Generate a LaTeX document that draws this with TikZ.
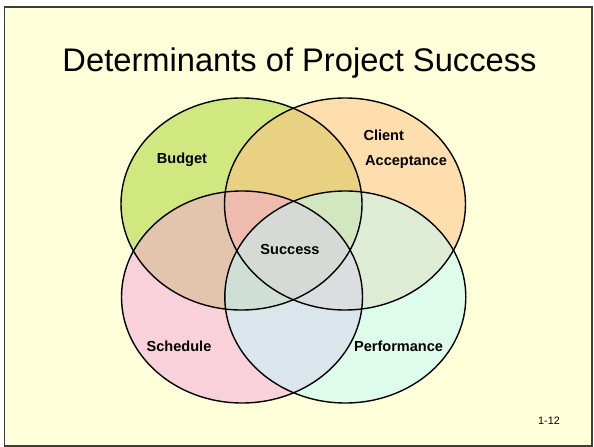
\documentclass[tikz,border=0pt]{standalone}
\usepackage{fontspec}
\setmainfont{Liberation Sans}
\usetikzlibrary{shapes.geometric}
\definecolor{slidebg}{RGB}{255,255,217}
\definecolor{framecol}{RGB}{60,60,60}
\definecolor{cgreen}{RGB}{165,208,40}
\definecolor{corange}{RGB}{255,190,130}
\definecolor{cpink}{RGB}{245,165,220}
\definecolor{ccyan}{RGB}{190,250,255}
\tikzset{
  venn/.style={ellipse, inner sep=0pt, minimum width=241bp, minimum height=212bp},
  vennfill/.style={venn, fill opacity=0.5},
  vennline/.style={venn, draw=black, line width=1.4bp},
  lbl/.style={font=\fontsize{14.6}{17}\selectfont\bfseries, inner sep=0pt},
}
\begin{document}
\begin{tikzpicture}[x=1bp,y=-1bp]
\useasboundingbox (0,0) rectangle (594,447);
\fill[white] (0,0) rectangle (594,447);
\draw[fill=slidebg, draw=framecol, line width=1.5bp] (4.5,7) rectangle (592,446);
\node[inner sep=0pt, font=\fontsize{32.8}{38}\selectfont] (title) at (299.5,63) {\vphantom{D}Determinants of Project Success};
% fills
\node[vennfill, fill=cgreen] (budgetF) at (241.5,204) {};
\node[vennfill, fill=corange] (clientF) at (345,204) {};
\node[vennfill, fill=cpink] (scheduleF) at (242,297) {};
\node[vennfill, fill=ccyan] (perfF) at (345.3,297) {};
% outlines
\node[vennline] (budget) at (241.5,204) {};
\node[vennline] (client) at (345,204) {};
\node[vennline] (schedule) at (242,297) {};
\node[vennline] (perf) at (345.3,297) {};
% labels
\node[lbl] (lbudget) at (182,160) {Budget};
\node[lbl, anchor=west] (lclient) at (363.3,135) {Client};
\node[lbl, anchor=west] (lacc) at (365,162.3) {Acceptance};
\node[lbl] (lsuccess) at (290,249) {Success};
\node[lbl] (lsched) at (179,346.7) {Schedule};
\node[lbl] (lperf) at (398.6,346.7) {Performance};
\node[inner sep=0pt, font=\fontsize{10.8}{13}\selectfont] (pagenum) at (549,420.7) {1-12};
\end{tikzpicture}
\end{document}
